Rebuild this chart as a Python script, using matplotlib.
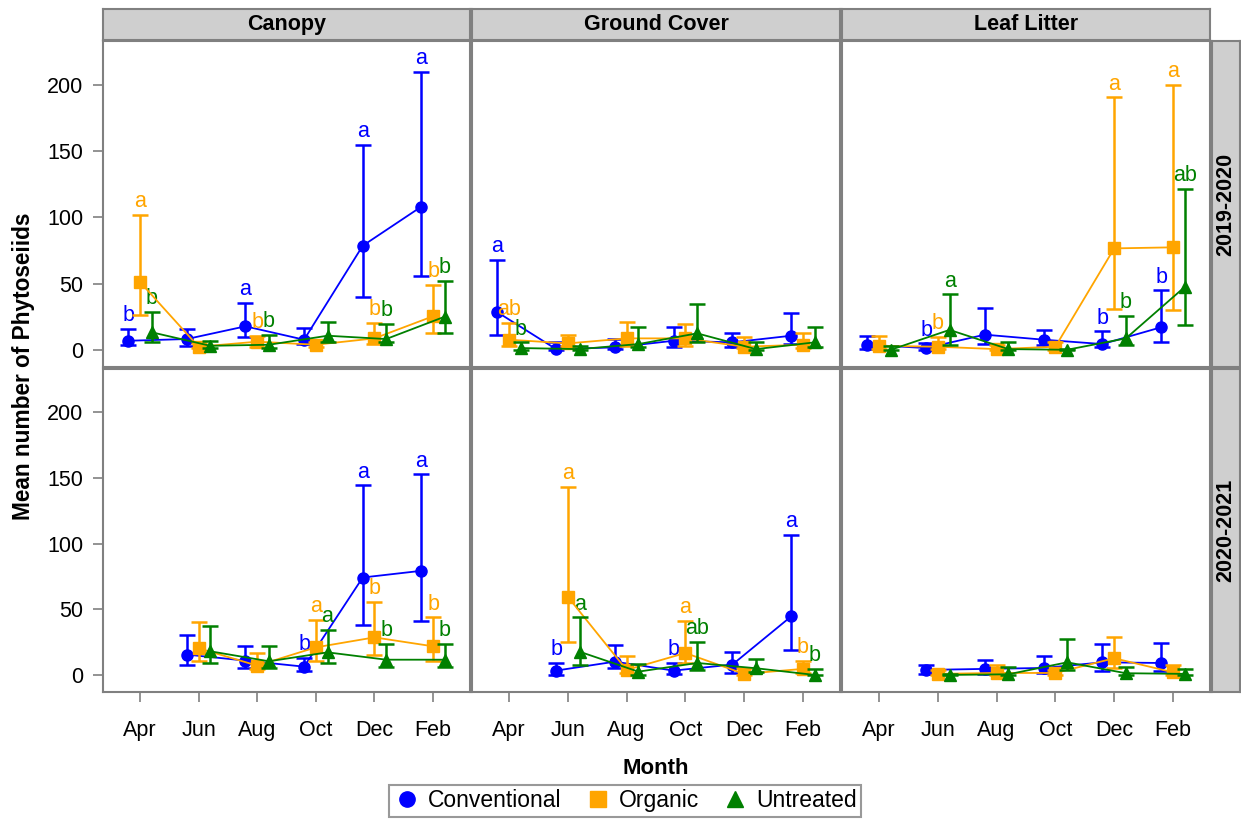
import numpy as np
import matplotlib
matplotlib.use("Agg")
import matplotlib.pyplot as plt
from matplotlib.lines import Line2D

plt.rcParams['font.family'] = ['Liberation Sans', 'DejaVu Sans']

months = ['Apr', 'Jun', 'Aug', 'Oct', 'Dec', 'Feb']
treatments = ['Conventional', 'Organic', 'Untreated']
colors = ['#0000ff', '#ffa500', '#008000']
markers = ['o', 's', '^']
habitats = ['Canopy', 'Ground Cover', 'Leaf Litter']
seasons = ['2019-2020', '2020-2021']
nan = np.nan

# each block: rows = Conventional, Organic, Untreated ; columns = months
# --- Canopy 2019-2020
can19_mean = [[6.8, 8.1, 17.7, 7.6, 78.5, 108.0],
              [51.2, 2.3, 6.1, 3.8, 8.6, 25.3],
              [13.2, 3.0, 3.8, 10.6, 8.1, 25.0]]
can19_lo = [[3.5, 3.0, 9.4, 4.3, 39.8, 56.0],
            [26.4, 1.0, 2.3, 2.0, 4.3, 12.6],
            [6.1, 1.0, 1.0, 5.6, 5.6, 12.6]]
can19_hi = [[15.7, 15.4, 35.5, 16.5, 154.8, 209.5],
            [101.8, 5.0, 10.6, 6.0, 20.2, 49.1],
            [28.4, 6.8, 11.1, 21.3, 19.5, 51.7]]
can19_let = [['b', '', 'a', '', 'a', 'a'],
             ['a', '', 'b', '', 'b', 'b'],
             ['b', '', 'b', '', 'b', 'b']]

# --- Ground Cover 2019-2020
gc19_mean = [[28.4, 0.5, 1.8, 6.8, 5.6, 10.6],
             [7.6, 4.8, 8.6, 8.6, 2.3, 3.8],
             [1.3, 0.5, 4.3, 12.4, 0.5, 5.6]]
gc19_lo = [[11.4, 0.0, 0.5, 1.8, 1.8, 4.3],
           [3.0, 3.0, 3.0, 3.0, 1.0, 1.0],
           [0.0, 0.0, 2.3, 5.6, 0.0, 2.3]]
gc19_hi = [[67.6, 5.6, 8.1, 17.0, 12.4, 27.6],
           [20.2, 11.1, 21.3, 19.5, 9.4, 12.4],
           [5.6, 3.0, 17.5, 34.7, 5.6, 17.0]]
gc19_let = [['a', '', '', '', '', ''],
            ['ab', '', '', '', '', ''],
            ['b', '', '', '', '', '']]

# --- Leaf Litter 2019-2020
ll19_mean = [[3.8, 1.3, 11.4, 7.6, 4.3, 17.0],
             [3.0, 2.3, 0.5, 2.3, 76.5, 77.3],
             [0.0, 15.0, 0.5, 0.0, 8.6, 47.4]]
ll19_lo = [[0.5, 0.0, 4.3, 3.8, 1.8, 6.1],
           [0.5, 0.5, 0.0, 0.0, 30.9, 30.1],
           [0.0, 3.8, 0.0, 0.0, 3.8, 19.0]]
ll19_hi = [[10.6, 4.8, 31.4, 15.0, 13.9, 44.8],
           [10.6, 9.9, 3.8, 5.6, 190.5, 200.0],
           [3.0, 41.8, 5.6, 0.5, 25.8, 121.6]]
ll19_let = [['', 'b', '', '', 'b', 'b'],
            ['', 'b', '', '', 'a', 'a'],
            ['', 'a', '', '', 'b', 'ab']]

# --- Canopy 2020-2021
can20_mean = [[nan, 15.5, 10.9, 6.3, 74.2, 79.3],
              [nan, 20.3, 7.1, 21.0, 28.6, 21.8],
              [nan, 18.0, 10.4, 17.2, 11.6, 11.6]]
can20_lo = [[nan, 7.9, 5.1, 3.3, 38.2, 40.8],
            [nan, 10.4, 4.6, 10.4, 15.5, 10.4],
            [nan, 8.9, 5.3, 9.1, 5.8, 5.8]]
can20_hi = [[nan, 30.7, 22.3, 12.7, 144.4, 152.7],
            [nan, 40.5, 16.5, 42.0, 55.7, 43.8],
            [nan, 37.0, 22.3, 34.4, 23.6, 23.6]]
can20_let = [['', '', '', 'b', 'a', 'a'],
             ['', '', '', 'a', 'b', 'b'],
             ['', '', '', 'a', 'b', 'b']]

# --- Ground Cover 2020-2021
gc20_mean = [[nan, 3.3, 10.1, 3.3, 7.9, 44.6],
             [nan, 59.5, 3.8, 16.7, 0.8, 4.6],
             [nan, 17.7, 2.5, 9.1, 5.1, 0.0]]
gc20_lo = [[nan, 0.0, 5.1, 0.5, 1.8, 19.0],
           [nan, 24.8, 1.8, 9.1, 0.0, 1.8],
           [nan, 7.9, 0.0, 3.8, 2.5, 0.0]]
gc20_hi = [[nan, 9.1, 23.0, 9.1, 17.2, 106.4],
           [nan, 143.4, 14.7, 41.3, 5.0, 10.4],
           [nan, 43.8, 8.4, 25.3, 12.0, 4.6]]
gc20_let = [['', 'b', '', 'b', '', 'a'],
            ['', 'a', '', 'a', '', 'b'],
            ['', 'a', '', 'ab', '', 'b']]

# --- Leaf Litter 2020-2021
ll20_mean = [[nan, 3.8, 4.6, 5.3, 9.6, 9.1],
             [nan, 0.8, 1.5, 1.5, 12.7, 2.0],
             [nan, 0.0, 0.5, 9.6, 1.3, 0.8]]
ll20_lo = [[nan, 0.5, 0.5, 1.3, 3.3, 3.3],
           [nan, 0.0, 0.0, 0.0, 5.1, 0.0],
           [nan, 0.0, 0.0, 3.8, 0.0, 0.0]]
ll20_hi = [[nan, 7.6, 11.4, 14.2, 23.6, 24.3],
           [nan, 4.0, 7.6, 4.0, 28.6, 7.6],
           [nan, 0.5, 6.3, 27.4, 5.8, 4.6]]
ll20_let = [['', '', '', '', '', ''],
            ['', '', '', '', '', ''],
            ['', '', '', '', '', '']]

panels = [[(can19_mean, can19_lo, can19_hi, can19_let),
           (gc19_mean, gc19_lo, gc19_hi, gc19_let),
           (ll19_mean, ll19_lo, ll19_hi, ll19_let)],
          [(can20_mean, can20_lo, can20_hi, can20_let),
           (gc20_mean, gc20_lo, gc20_hi, gc20_let),
           (ll20_mean, ll20_lo, ll20_hi, ll20_let)]]

W, H = 1241, 819
fig = plt.figure(figsize=(W / 100, H / 100), dpi=100)

def frac(x0, y0, x1, y1):
    # pixel box (top-left origin) -> figure fraction
    return [x0 / W, 1 - y1 / H, (x1 - x0) / W, (y1 - y0) / H]

col_x = [(103, 470), (472, 840), (842, 1210)]
row_y = [(41, 367), (369, 692)]
grey = '#808080'
offsets = [-0.2, 0.0, 0.2]
xpos = np.arange(len(months))

for r in range(2):
    for c in range(3):
        x0, x1 = col_x[c]
        y0, y1 = row_y[r]
        ax = fig.add_axes(frac(x0, y0, x1, y1))
        mean, lo, hi, let = panels[r][c]
        for k in range(3):
            m = np.array(mean[k], dtype=float)
            l = np.array(lo[k], dtype=float)
            h = np.array(hi[k], dtype=float)
            xs = xpos + offsets[k]
            ax.errorbar(xs, m, yerr=[m - l, h - m], fmt='none', ecolor=colors[k],
                        elinewidth=1.8, capsize=6, capthick=1.8, zorder=2 + k)
            ax.plot(xs, m, color=colors[k], lw=1.3, marker=markers[k],
                    markersize=8, zorder=3 + k)
            for i, s in enumerate(let[k]):
                if s:
                    ax.annotate(s, (xs[i], h[i]), xytext=(0, 2), textcoords='offset points',
                                ha='center', va='bottom', color=colors[k], fontsize=15.5)
        ax.set_xlim(-0.63, 5.63)
        ax.set_ylim(-13, 233)
        ax.set_yticks([0, 50, 100, 150, 200])
        ax.set_xticks(xpos)
        ax.set_xticklabels(months)
        ax.tick_params(direction='out', length=7, width=1.2, color=grey,
                       labelsize=15.5, pad=7)
        ax.tick_params(axis='x', pad=13)
        if c != 0:
            ax.tick_params(axis='y', left=False, labelleft=False)
        if r != 1:
            ax.tick_params(axis='x', bottom=False, labelbottom=False)
        for sp in ax.spines.values():
            sp.set_color(grey)
            sp.set_linewidth(1.5)

# column headers
for c in range(3):
    x0, x1 = col_x[c]
    sax = fig.add_axes(frac(x0, 9, x1, 40))
    sax.set_facecolor('#cfcfcf')
    sax.set_xticks([])
    sax.set_yticks([])
    for sp in sax.spines.values():
        sp.set_color(grey)
        sp.set_linewidth(1.5)
    sax.text(0.5, 0.5, habitats[c], transform=sax.transAxes, ha='center', va='center',
             fontsize=15.5, fontweight='bold')

# row headers
for r in range(2):
    y0, y1 = row_y[r]
    sax = fig.add_axes(frac(1212, y0, 1240, y1))
    sax.set_facecolor('#cfcfcf')
    sax.set_xticks([])
    sax.set_yticks([])
    for sp in sax.spines.values():
        sp.set_color(grey)
        sp.set_linewidth(1.5)
    sax.text(0.5, 0.5, seasons[r], transform=sax.transAxes, ha='center', va='center',
             rotation=90, fontsize=15.5, fontweight='bold')

fig.text(24 / W, 1 - 366 / H, 'Mean number of Phytoseiids', rotation=90,
         ha='center', va='center', fontsize=16.3, fontweight='bold')
fig.text(656 / W, 1 - 768 / H, 'Month', ha='center', va='center',
         fontsize=16, fontweight='bold')

handles = [Line2D([], [], linestyle='none', marker=markers[k], color=colors[k],
                  markersize=11) for k in range(3)]
leg = fig.legend(handles, treatments, loc='lower center', bbox_to_anchor=(625 / W, 0.0),
                 ncol=3, fontsize=16.5, frameon=True, fancybox=False, borderaxespad=0.1,
                 handletextpad=0.3, columnspacing=1.0, borderpad=0.2, handlelength=1.2)
leg.get_frame().set_edgecolor(grey)
leg.get_frame().set_linewidth(1.5)

fig.savefig('out.png', dpi=100)
